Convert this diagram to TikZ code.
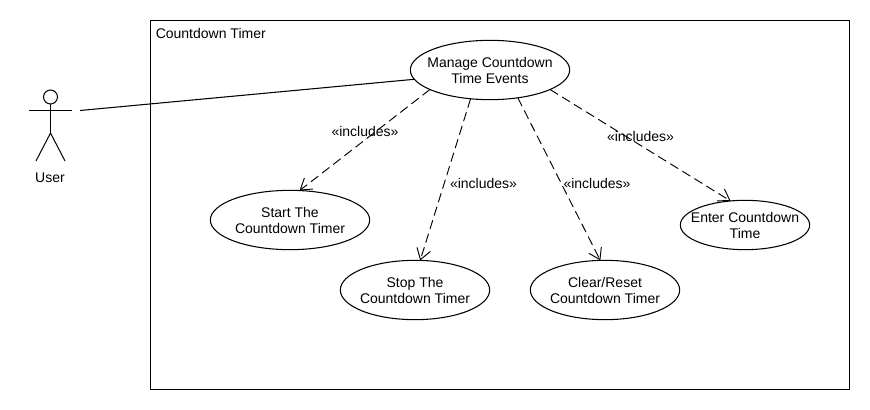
\documentclass[tikz,border=0pt]{standalone}
\usepackage{fontspec}
\setmainfont{Liberation Sans}
\usetikzlibrary{shapes.geometric,arrows.meta}
\tikzset{
  px/.style={x=0.75pt,y=-0.75pt},
  usecase/.style={draw=black,ellipse,line width=0.8pt,inner xsep=-20pt,inner ysep=0pt,outer sep=0pt,align=center,font=\fontsize{10.5pt}{12pt}\selectfont},
  caption/.style={inner sep=0pt,font=\fontsize{10.5pt}{12pt}\selectfont},
  stick/.style={draw=black,line width=0.75pt},
  incl/.style={draw=black,line width=0.7pt,dash pattern=on 7pt off 3.6pt,-{Straight Barb[length=8pt,width=10.5pt,line width=0.7pt]}},
  assoc/.style={draw=black,line width=0.8pt}
}
\begin{document}
\begin{tikzpicture}[px]
\useasboundingbox (0,0) rectangle (870,410);
\fill[white] (0,0) rectangle (870,410);
\node[draw=black,line width=0.8pt,minimum width=524.25pt,minimum height=276.75pt,inner sep=0pt,outer sep=0pt,anchor=north west] (frame) at (150.5,20.5) {};
\node[caption,anchor=west] (title) at (155.5,33) {Countdown Timer};
\node[usecase,minimum width=119.5pt,minimum height=44.5pt] (manage) at (490,70) {Manage Countdown\\Time Events};
\node[usecase,minimum width=119.5pt,minimum height=44.5pt] (start) at (290,220) {Start The\\Countdown Timer};
\node[usecase,minimum width=112pt,minimum height=44.5pt] (stop) at (415,290) {Stop The\\Countdown Timer};
\node[usecase,minimum width=112pt,minimum height=44.5pt] (clear) at (605,290) {Clear/Reset\\Countdown Timer};
\node[usecase,minimum width=97pt,minimum height=37pt] (enter) at (745,225) {Enter Countdown\\Time};
% actor
\draw[stick] (50.5,97) circle[radius=7];
\draw[stick] (50.5,104) -- (50.5,133);
\draw[stick] (29,110.5) -- (72,110.5);
\draw[stick] (36,161) -- (50.5,133) -- (65,161);
\node[caption] (user) at (50,178) {User};
\coordinate (actorend) at (80,110.5);
% connectors
\draw[assoc] (actorend) -- (manage.187);
\draw[incl] (manage.198) -- (start.72);
\draw[incl] (manage.236) -- (stop.80);
\draw[incl] (manage.315) -- (clear.99);
\draw[incl] (manage.342) -- (enter.121);
% labels
\node[caption] (l1) at (365,131.5) {«includes»};
\node[caption] (l2) at (483.5,183.5) {«includes»};
\node[caption] (l3) at (597,183.5) {«includes»};
\node[caption] (l4) at (640.5,136.5) {«includes»};
\end{tikzpicture}
\end{document}
